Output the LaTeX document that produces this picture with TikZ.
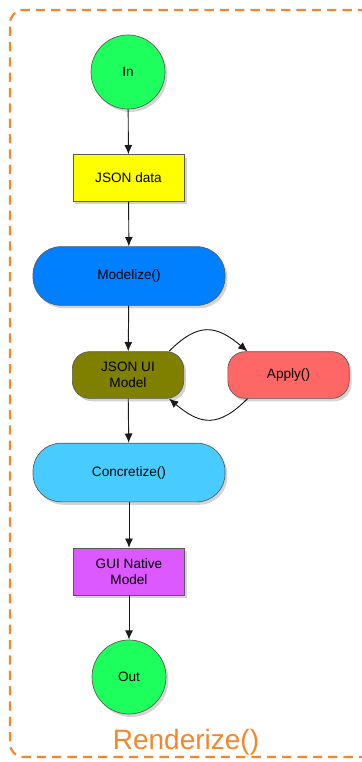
\documentclass[tikz,border=0pt]{standalone}
\usepackage{fontspec}
\setmainfont{Liberation Sans}
\usepackage[HTML]{xcolor}
\usepackage{tikz}
\usetikzlibrary{positioning, arrows, arrows.meta, shadows}

\definecolor{ingreen}{HTML}{1CFF5C}
\definecolor{jsonyellow}{HTML}{FFFF00}
\definecolor{modelblue}{HTML}{0080FF}
\definecolor{uiolive}{HTML}{808000}
\definecolor{applyred}{HTML}{FF6666}
\definecolor{concblue}{HTML}{48CCFF}
\definecolor{guiviolet}{HTML}{DC58FF}
\definecolor{frameorange}{HTML}{F5872A}

\tikzset{
  shape base/.style={draw=black!65, line width=0.5pt, font=\fontsize{10.2}{12}\selectfont,
    align=center, inner sep=1pt,
    drop shadow={shadow xshift=1.8pt, shadow yshift=-2.2pt, opacity=0.35}},
  disc/.style={shape base, circle, minimum size=55.5pt},
  box/.style={shape base, rectangle, minimum width=83.5pt, minimum height=35pt},
  pill/.style={shape base, rectangle, rounded corners=21pt, minimum width=144pt, minimum height=44pt},
  tab/.style={shape base, rectangle, rounded corners=13pt, minimum height=35pt},
  flow/.style={-{Latex[length=7pt, width=6pt]}, line width=0.7pt, black!90}
}

\begin{document}
\begin{tikzpicture}[x=0.75pt, y=-0.75pt]
\useasboundingbox (0,0) rectangle (361,762);

% --- Dashed frame (right side runs off the page) ---
\draw[frameorange, line width=1.6pt, dash pattern=on 7pt off 4.5pt, rounded corners=10pt]
  (368,741) to[out=-120, in=0] (352,757) -- (10,757) -- (10,10) -- (352,10) to[out=0, in=120] (368,26);

% --- Main column ---
\node[disc, fill=ingreen] (in) at (128,72) {In};
\node[box, fill=jsonyellow] (json) at (128.5,178) {JSON data};
\node[pill, fill=modelblue] (modelize) at (129,276) {Modelize()};
\node[tab, fill=uiolive, minimum width=83.5pt] (jsonui) at (128,375) {JSON UI\\Model};
\node[pill, fill=concblue] (concretize) at (129,472.5) {Concretize()};
\node[box, fill=guiviolet] (gui) at (129,571.5) {GUI Native\\Model};
\node[disc, fill=ingreen] (out) at (129,677) {Out};

% --- Side step ---
\node[tab, fill=applyred, minimum width=91pt] (apply) at (288.5,375) {Apply()};

% --- Label ---
\node[frameorange, font=\fontsize{21}{24}\selectfont] (renderize) at (186,742) {Renderize()};

% --- Arrows down ---
\draw[flow] (in) -- (json);
\draw[flow] (json) -- (modelize);
\draw[flow] (modelize) -- (jsonui);
\draw[flow] (jsonui) -- (concretize);
\draw[flow] (concretize) -- (gui);
\draw[flow] (gui) -- (out);

% --- Loop through Apply() ---
\draw[flow] (jsonui.30) to[out=45, in=140, looseness=1.35] (apply.150);
\draw[flow] (apply.210) to[out=-135, in=-40, looseness=1.35] (jsonui.-30);
\end{tikzpicture}
\end{document}
